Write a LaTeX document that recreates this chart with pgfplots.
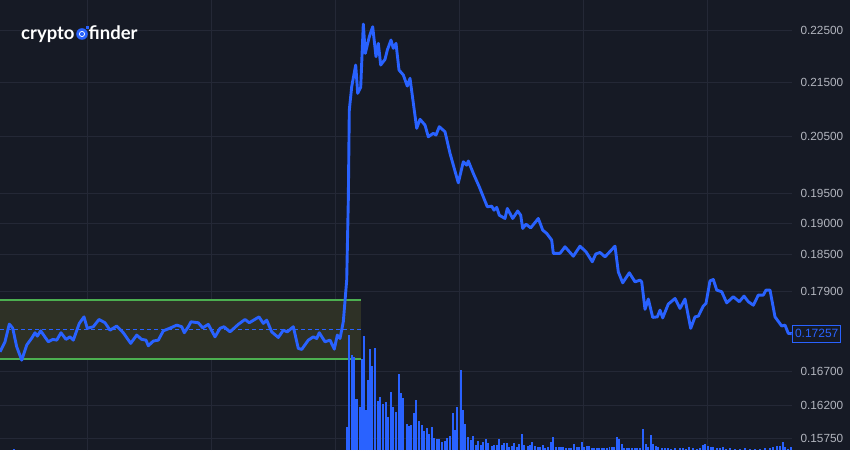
\documentclass[border=0pt]{standalone}
\usepackage{fontspec}
\setmainfont{Liberation Sans}
\newfontfamily\logofont{Lato}
\usepackage{pgfplots}
\usepackage{pgfplotstable}
\pgfplotsset{compat=1.18}
\definecolor{bg}{HTML}{161A25}
\definecolor{gridc}{HTML}{242836}
\definecolor{tickc}{HTML}{B2B5BE}
\definecolor{tvblue}{HTML}{2962FF}
\definecolor{boxgreen}{HTML}{4CAF50}
\definecolor{boxfill}{HTML}{2E3126}

\pgfplotstableread{
x y
0 0.16985
5 0.17134
9.3 0.17401
12.7 0.17340
16.7 0.17059
21.7 0.16862
26.7 0.17085
31.7 0.17189
35 0.17269
37.3 0.17219
40.7 0.17299
48.3 0.17134
52.7 0.17170
56.7 0.17159
61 0.17269
66 0.17170
70 0.17209
73.3 0.17159
79.3 0.17412
84 0.17512
87.3 0.17336
93.3 0.17361
99 0.17473
105 0.17421
110 0.17310
116.7 0.17371
123.3 0.17269
130.7 0.17110
136.7 0.17235
141.7 0.17170
146 0.17159
148.3 0.17074
153.3 0.17144
158.3 0.17159
163.3 0.17299
171.7 0.17351
176.7 0.17386
181.7 0.17361
184.3 0.17269
188.3 0.17361
191 0.17436
198.3 0.17421
202.7 0.17345
208.3 0.17397
215 0.17209
220 0.17336
224 0.17361
230 0.17284
238.3 0.17397
245 0.17473
249.3 0.17421
259 0.17512
263.3 0.17412
266.7 0.17462
271.7 0.17284
278.3 0.17199
283.3 0.17310
287.3 0.17284
293.3 0.17361
298.3 0.17035
301.7 0.17020
308.3 0.17159
313.3 0.17209
316.7 0.17184
319.3 0.17269
325 0.17134
330 0.17159
334.3 0.17025
337.3 0.17235
340 0.17184
343.3 0.17436
346.7 0.18083
348.3 0.19393
349.3 0.20980
351.7 0.21412
355.7 0.21823
357.7 0.21289
360.7 0.21401
363.3 0.22618
365.3 0.22047
369.3 0.22369
372.7 0.22565
376 0.21982
378.3 0.22240
380.7 0.21823
385 0.21931
387.3 0.22110
391 0.22304
393.3 0.22143
396 0.22240
399 0.21727
403.3 0.21633
407.3 0.21425
410 0.21570
416.7 0.20648
420 0.20811
425 0.20707
428.3 0.20496
433.3 0.20558
436 0.20527
439.3 0.20677
445 0.20586
450 0.20201
458.3 0.19689
463.3 0.20053
466.7 0.19996
468.3 0.20066
473.3 0.19851
479.3 0.19620
487.3 0.19280
491.7 0.19292
494 0.19224
496.7 0.19270
499.3 0.19141
505 0.19085
507.3 0.19253
512.7 0.19085
517.7 0.19212
520.7 0.19141
522.7 0.18919
526 0.18991
530.7 0.18929
538.3 0.19085
542.7 0.18891
546.7 0.18837
551.7 0.18727
553.3 0.18511
560 0.18511
565 0.18618
573.3 0.18467
580 0.18629
586 0.18536
592.3 0.18375
595.7 0.18499
600 0.18525
605 0.18456
615 0.18629
618.3 0.18215
622.7 0.18041
629.3 0.18199
635 0.18056
640 0.18083
641.7 0.18056
645 0.17626
648.3 0.17786
652.7 0.17503
657.3 0.17512
660 0.17615
662.7 0.17497
668.3 0.17708
675 0.17796
680 0.17641
685 0.17786
690.7 0.17336
695 0.17512
698.3 0.17523
703.3 0.17677
706 0.17719
710 0.18072
713.3 0.18094
716.7 0.17926
721.7 0.17900
726.7 0.17728
733.3 0.17822
739.3 0.17744
744 0.17832
748.3 0.17744
753.3 0.17692
758.3 0.17848
763.3 0.17848
766 0.17926
770 0.17926
775 0.17512
781.7 0.17371
785 0.17386
788.3 0.17260
791.7 0.17257
}\pricedata

\pgfplotstableread{
x v
14 1
346.7 23
349 115
352.3 95
353.9 93
355.7 51
357.5 51
360 43
362 91
364.3 114
366 40
367.7 70
370 101
372.3 84
375 102
377.7 49
380 53
382.7 46
385.7 48
387.7 33
391 58
393.3 43
395.7 38
398.7 76
400.7 57
403.3 52
406.7 26
408.7 24
411 25
414 37
416.3 50
418.7 29
421.7 25
424.3 19
426.7 22
429.3 16
432 23
434.3 12
437 11
439.3 11
442.3 8
445 9
447.3 12
450 14
452.7 37
455 20
457.3 43
460.7 80
462.7 40
465 26
468.3 13
470.7 10
473.3 14
476 5
478.3 9
481 5
483.3 8
485.7 11
488.3 7
491.7 4
494 5
496.7 5
499 11
501.7 5
504.3 7
506.7 7
509.3 3
511.7 4
514.3 7
516.7 3
519.3 6
522 16
524.3 5
527.7 4
530 5
532.3 8
535 4
537.7 3
540 3
542.7 5
545.3 2
547.7 3
550.7 8
553.3 13
556 3
558.7 3
561 3
563.3 3
566 2
568.7 2
571 2
574 6
576.7 3
579 3
581.7 8
584.3 3
586.7 4
589.3 4
591.7 2
594 2
596.7 2
599 2
601.7 2
604 2
607 2
609.5 3
612 3
614.3 3
616.7 13
619.3 11
621.7 6
624.3 2
627 2
629.3 2
632 2
634.7 2
637 2
640 2
643.3 21
645.7 6
648.3 3
651 15
653.3 6
656 4
658.3 3
661.7 2
665 2
668 2
671 1
675 2
680 2
683.3 2
686 1
689.3 3
693.3 2
697 1
700 2
702.7 5
705 6
707.7 4
710.7 3
713.3 3
716.7 2
720 2
723.3 3
726 1
730 2
735 1
740 1
745 2
750 1
755 1
760 1
765 2
770 2
773 3
776.7 4
780 4
782.7 8
785 3
788 1
790.7 3
}\voldata

\pgfplotsset{
  base/.style={at={(0pt,0pt)}, anchor=south west, scale only axis,
    width=792pt, height=450pt, xmin=0, xmax=792}
}

\begin{document}
\begin{tikzpicture}
\fill[bg] (0,0) rectangle (850pt,450pt);
\useasboundingbox (0,0) rectangle (850pt,450pt);

% price axis with grid, ticks and range box
\begin{axis}[base, ymode=log, ymin=0.15587, ymax=0.23098,
  axis line style={draw=none},
  tick style={draw=none},
  minor tick num=0,
  xtick={87,211,335,459,583,707},
  xticklabels={},
  ytick={0.1575,0.162,0.167,0.179,0.185,0.19,0.195,0.205,0.215,0.225},
  yticklabels={0.15750,0.16200,0.16700,0.17900,0.18500,0.19000,0.19500,0.20500,0.21500,0.22500},
  yticklabel pos=right,
  yticklabel style={font=\fontsize{11.8}{12}\selectfont, text=tickc, xshift=5pt},
  /pgf/number format/assume math mode=true,
  grid=major,
  major grid style={draw=gridc, line width=1pt},
]
\addplot[fill=boxfill, draw=none] coordinates {(0,0.1777) (361,0.1777) (361,0.16877) (0,0.16877)} -- cycle;
\addplot[draw=tvblue, line width=1.1pt, dash pattern=on 4pt off 3pt] coordinates {(0,0.17318) (361,0.17318)};
\addplot[draw=boxgreen, line width=2pt] coordinates {(0,0.1777) (361,0.1777)};
\addplot[draw=boxgreen, line width=2pt] coordinates {(0,0.16877) (361,0.16877)};
\end{axis}

% volume axis
\begin{axis}[base, hide axis, ymin=0, ymax=450]
\addplot[ycomb, draw=tvblue, line width=1.8pt, mark=none] table[x=x, y=v] {\voldata};
\end{axis}

% price line axis
\begin{axis}[base, ymode=log, ymin=0.15587, ymax=0.23098, hide axis, clip=false]
\addplot[draw=tvblue, line width=2.9pt, line join=round, mark=none] table[x=x, y=y] {\pricedata};
\node[draw=tvblue, fill=bg, text=tvblue, anchor=west, line width=1pt,
      inner sep=2.5pt, minimum height=17pt,
      font=\fontsize{12}{12}\selectfont] at (axis cs:792,0.17257) {0.17257};
\end{axis}

% logo
\node[anchor=base west, inner sep=0, text=white,
      font=\logofont\bfseries\fontsize{18.5}{18}\selectfont] at (21pt,410pt) {crypto};
\fill[tvblue] (82pt,416pt) circle (5.8pt);
\draw[white, line width=0.7pt] (82pt,416pt) circle (2.6pt);
\fill[tvblue] (86pt,421pt) rectangle (89pt,424pt);
\node[anchor=base west, inner sep=0, text=white,
      font=\logofont\bfseries\fontsize{18.5}{18}\selectfont] at (88.5pt,410pt) {finder};
\end{tikzpicture}
\end{document}
